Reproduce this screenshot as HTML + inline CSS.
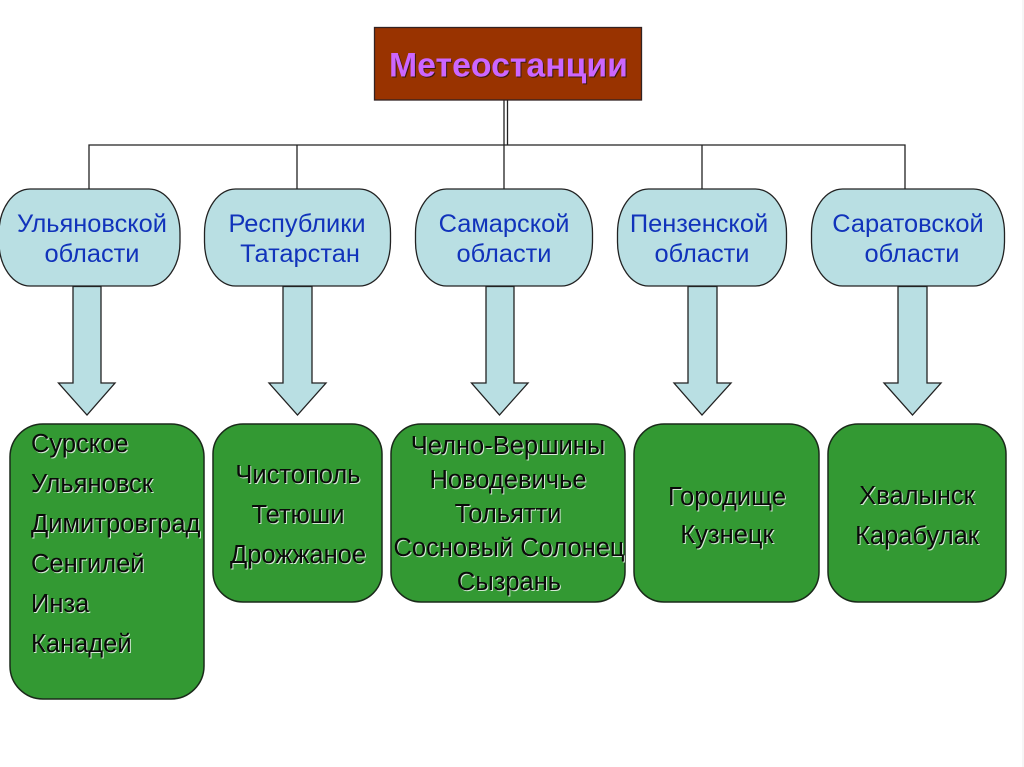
<!DOCTYPE html>
<html lang="ru">
<head>
<meta charset="utf-8">
<title>Метеостанции</title>
<style>
html,body{margin:0;padding:0;background:#fff;width:1024px;height:767px;overflow:hidden}
svg{display:block}
text{font-family:"Liberation Sans",sans-serif}
.b{font-size:25.4px;fill:#1133bb;text-anchor:middle}
.g{font-size:25.5px;fill:#0a0a0a;filter:drop-shadow(1px 1px 0 #d5e8d5)}
.m{text-anchor:middle}
.c{fill:#b9dfe3;stroke:#222;stroke-width:1.3}
.d{fill:#339933;stroke:#1a2a1a;stroke-width:1.5}
.l{fill:none;stroke:#222;stroke-width:1.3}
</style>
</head>
<body>
<svg width="1024" height="767" viewBox="0 0 1024 767" xmlns="http://www.w3.org/2000/svg">
<rect width="1024" height="767" fill="#fff"/>
<rect x="1022" y="0" width="2" height="767" fill="#f6f6f6"/>

<path class="l" d="M504 100V145M507.500 100V145M89 189V145H905V189M297 145V189M504 145V189M702 145V189"/>

<rect x="374.500" y="27.500" width="267" height="72.500" fill="#993300" stroke="#332222" stroke-width="1.300"/>
<text x="508.500" y="76.500" text-anchor="middle" style="font-size:33.800px;font-weight:bold;fill:#cc66ff;filter:drop-shadow(1.500px 1.500px 0 #3a1a10)">Метеостанции</text>

<rect class="c" x="-1" y="189" width="181" height="97" rx="31" ry="44"/>
<rect class="c" x="204.500" y="189" width="186" height="97" rx="31" ry="44"/>
<rect class="c" x="415.500" y="189" width="177" height="97" rx="31" ry="44"/>
<rect class="c" x="617.500" y="189" width="169" height="97" rx="31" ry="44"/>
<rect class="c" x="811.500" y="189" width="193" height="97" rx="31" ry="44"/>

<text class="b" x="92" y="232">Ульяновской</text>
<text class="b" x="92" y="262">области</text>
<text class="b" x="297" y="232">Республики</text>
<text class="b" x="300" y="262">Татарстан</text>
<text class="b" x="504" y="232">Самарской</text>
<text class="b" x="504" y="262">области</text>
<text class="b" x="699" y="232">Пензенской</text>
<text class="b" x="702" y="262">области</text>
<text class="b" x="908" y="232">Саратовской</text>
<text class="b" x="912" y="262">области</text>

<path class="c" d="M73 286.500H101V383H115L87 415L58.500 383H73Z"/>
<path class="c" d="M283 286.500H312V383H326L297.500 415L269 383H283Z"/>
<path class="c" d="M486 286.500H514V383H528L499.500 415L471.500 383H486Z"/>
<path class="c" d="M688 286.500H717V383H731L702 415L674 383H688Z"/>
<path class="c" d="M898 286.500H927V383H941L912.500 415L884 383H898Z"/>

<rect class="d" x="10" y="424" width="194" height="275" rx="33" ry="33"/>
<rect class="d" x="213" y="424" width="169" height="178" rx="30" ry="30"/>
<rect class="d" x="391" y="424" width="234" height="178" rx="30" ry="30"/>
<rect class="d" x="634" y="424" width="185" height="178" rx="30" ry="30"/>
<rect class="d" x="828" y="424" width="178" height="178" rx="30" ry="30"/>

<text class="g" x="31" y="452">Сурское</text>
<text class="g" x="31" y="492">Ульяновск</text>
<text class="g" x="31" y="532">Димитровград</text>
<text class="g" x="31" y="572">Сенгилей</text>
<text class="g" x="31" y="612">Инза</text>
<text class="g" x="31" y="652">Канадей</text>

<text class="g m" x="298" y="483">Чистополь</text>
<text class="g m" x="298" y="523">Тетюши</text>
<text class="g m" x="298" y="563">Дрожжаное</text>

<text class="g m" x="508" y="454">Челно-Вершины</text>
<text class="g m" x="508" y="488">Новодевичье</text>
<text class="g m" x="508" y="522">Тольятти</text>
<text class="g m" x="509" y="556">Сосновый Солонец</text>
<text class="g m" x="509" y="590">Сызрань</text>

<text class="g m" x="727" y="505">Городище</text>
<text class="g m" x="727" y="543">Кузнецк</text>

<text class="g m" x="917" y="504">Хвалынск</text>
<text class="g m" x="917" y="544">Карабулак</text>
</svg>
</body>
</html>
